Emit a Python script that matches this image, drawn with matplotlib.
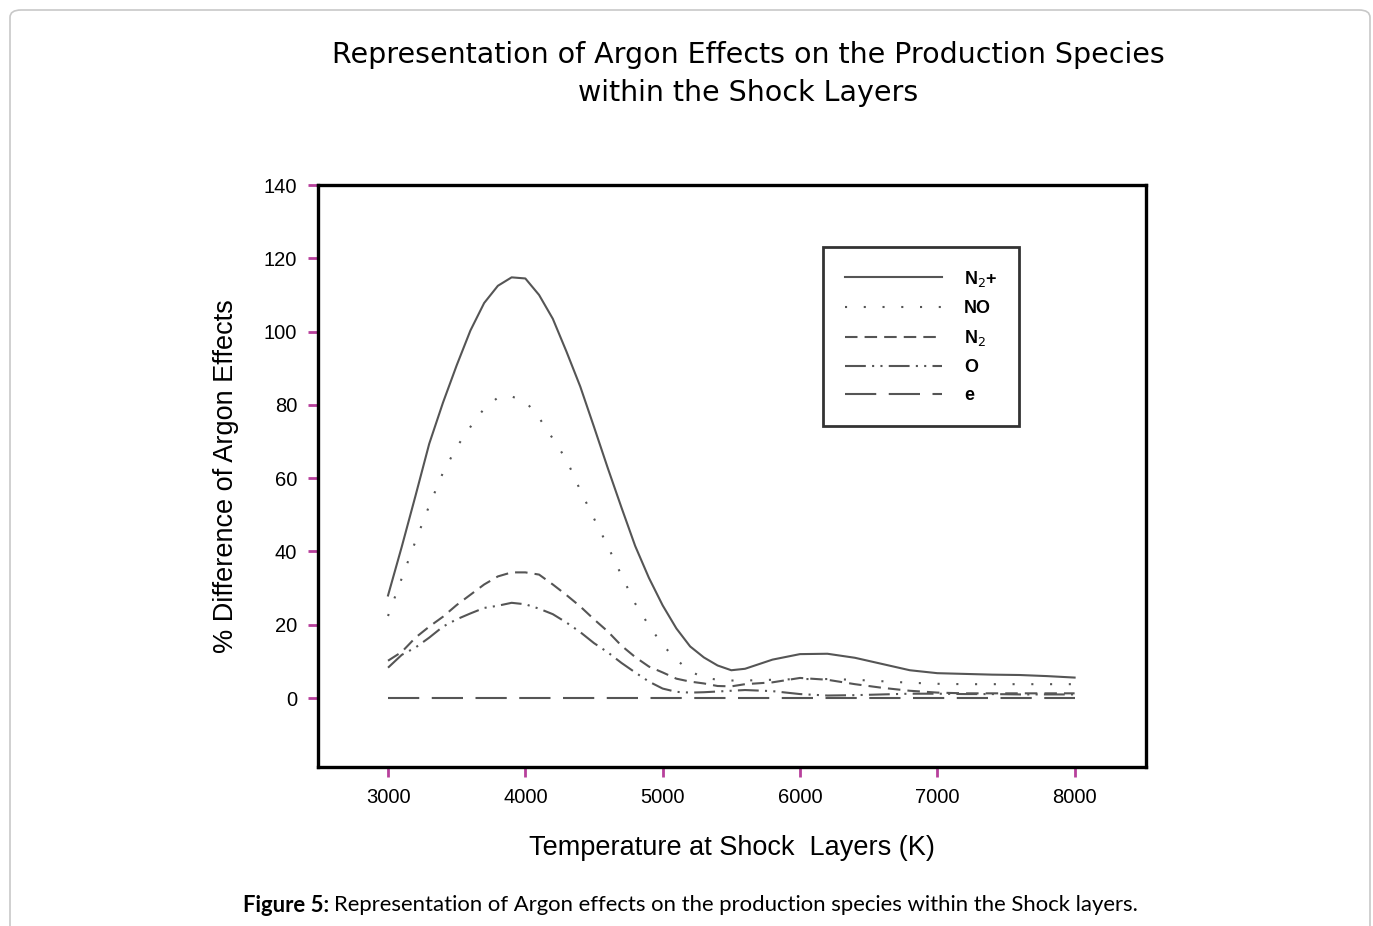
import numpy as np
import matplotlib
matplotlib.use('Agg')
import matplotlib.pyplot as plt
from matplotlib.patches import FancyBboxPatch

plt.rcParams['font.family'] = ['Liberation Sans', 'DejaVu Sans']

# temperatures (K) and % difference for each species
temps = [3000, 3100, 3200, 3300, 3400, 3500, 3600, 3700, 3800, 3900, 4000, 4100, 4200,
         4300, 4400, 4500, 4600, 4700, 4800, 4900, 5000, 5100, 5200, 5300, 5400, 5500,
         5600, 5800, 6000, 6200, 6400, 6600, 6800, 7000, 7200, 7400, 7600, 7800, 8000]
n2_plus = [28, 41.3, 55.2, 69.4, 80.6, 90.8, 100.3, 107.8, 112.5, 114.8, 114.5, 110, 103.5,
           94.5, 85, 74, 62.8, 52, 41.5, 32.8, 25.3, 19, 14.1, 11.1, 8.9, 7.6,
           8.0, 10.5, 12, 12.1, 11, 9.3, 7.6, 6.8, 6.6, 6.4, 6.3, 6.0, 5.6]
no_vals = [22.4, 32.7, 42.8, 52.5, 61.5, 68.5, 74, 79, 82, 82.3, 81, 76.5, 70.8,
           65, 56.7, 49, 41.5, 33.5, 25.8, 19.8, 14.5, 10.5, 7.3, 5.6, 5.0, 4.8,
           4.8, 5, 5.2, 5.2, 5, 4.6, 4.2, 3.9, 3.8, 3.8, 3.8, 3.8, 3.8]
n2_vals = [10.2, 12.6, 16.5, 19.5, 22.2, 25.4, 28.2, 31, 33.2, 34.3, 34.3, 33.7, 31,
           28.1, 25, 21.5, 18.2, 14.3, 11.2, 8.6, 7, 5.3, 4.5, 4, 3.3, 3.2,
           3.8, 4.3, 5.5, 5, 3.8, 2.8, 2, 1.5, 1.3, 1.3, 1.3, 1.3, 1.3]
o_vals = [8.3, 11.8, 13.8, 16.5, 19.5, 21.5, 23.1, 24.6, 25.2, 26, 25.6, 24.4, 22.9,
          20.6, 18, 15, 12.5, 9.6, 7, 4.5, 2.6, 1.7, 1.5, 1.6, 1.8, 2.0,
          2.2, 1.9, 1.1, 0.7, 0.8, 1.0, 1.2, 1.2, 1.1, 1.1, 1.0, 1.0, 1.0]
e_vals = [0] * len(temps)

x_ticks = [3000, 4000, 5000, 6000, 7000, 8000]
y_ticks = [0, 20, 40, 60, 80, 100, 120, 140]

fig = plt.figure(figsize=(13.73, 9.26), dpi=100)

# outer rounded frame
frame = FancyBboxPatch((10 / 1373, -30 / 926), 1360 / 1373, 946 / 926,
                       boxstyle='round,pad=0,rounding_size=0.008',
                       transform=fig.transFigure, fc='none', ec='#c8c8c8', lw=1.2,
                       zorder=-5)
fig.patches.append(frame)

ax = fig.add_axes([318 / 1373, 1 - 767 / 926, 828 / 1373, 582 / 926])
ax.set_facecolor('none')

lc = '#555555'
lw = 1.5
ax.plot(temps, n2_plus, color=lc, lw=lw, ls='-', label='N$_2$+')
ax.plot(temps, no_vals, color=lc, lw=lw, ls=(0, (1, 8)), label='NO')
ax.plot(temps, n2_vals, color=lc, lw=lw, ls=(0, (6, 3.4)), label='N$_2$')
ax.plot(temps, o_vals, color=lc, lw=lw, ls=(0, (10, 3, 1, 3, 1, 3)), label='O')
ax.plot(temps, e_vals, color=lc, lw=lw, ls=(0, (15, 6)), label='e')

ax.set_xlim(2490, 8520)
ax.set_ylim(-18.8, 140)
ax.set_xticks(x_ticks)
ax.set_yticks(y_ticks)
ax.tick_params(direction='out', length=7, width=2, color='#b8409c', pad=8,
               labelsize=14.5)
for s in ax.spines.values():
    s.set_linewidth(2.4)
    s.set_color('black')

ax.set_xlabel('Temperature at Shock  Layers (K)', fontsize=19.5, labelpad=20)
ax.set_ylabel('% Difference of Argon Effects', fontsize=19.5, labelpad=18)

leg = ax.legend(loc='upper left', bbox_to_anchor=(0.61, 0.8935), borderaxespad=0,
                fancybox=False, edgecolor='black', handlelength=5.4,
                handletextpad=1.2, labelspacing=0.62, borderpad=1.2,
                prop={'weight': 'bold', 'size': 13})
leg.get_frame().set_linewidth(2)

fig.text(748 / 1373, 1 - 74 / 926,
         'Representation of Argon Effects on the Production Species\nwithin the Shock Layers',
         ha='center', va='center', fontsize=20.5, linespacing=1.42,
         family=['DejaVu Sans'])

# caption: bold label followed by normal text
renderer = fig.canvas.get_renderer()
cap_bold = fig.text(243 / 1373, 1 - 905 / 926, 'Figure 5:', ha='left', va='center',
                    fontsize=15.9, weight='bold', family=['Lato', 'DejaVu Sans'])
bb = cap_bold.get_window_extent(renderer)
fig.text((bb.x1 + 5) / 1373, 1 - 905 / 926,
         'Representation of Argon effects on the production species within the Shock layers.',
         ha='left', va='center', fontsize=15.9, family=['Lato', 'DejaVu Sans'])

plt.savefig('out.png', dpi=100)
